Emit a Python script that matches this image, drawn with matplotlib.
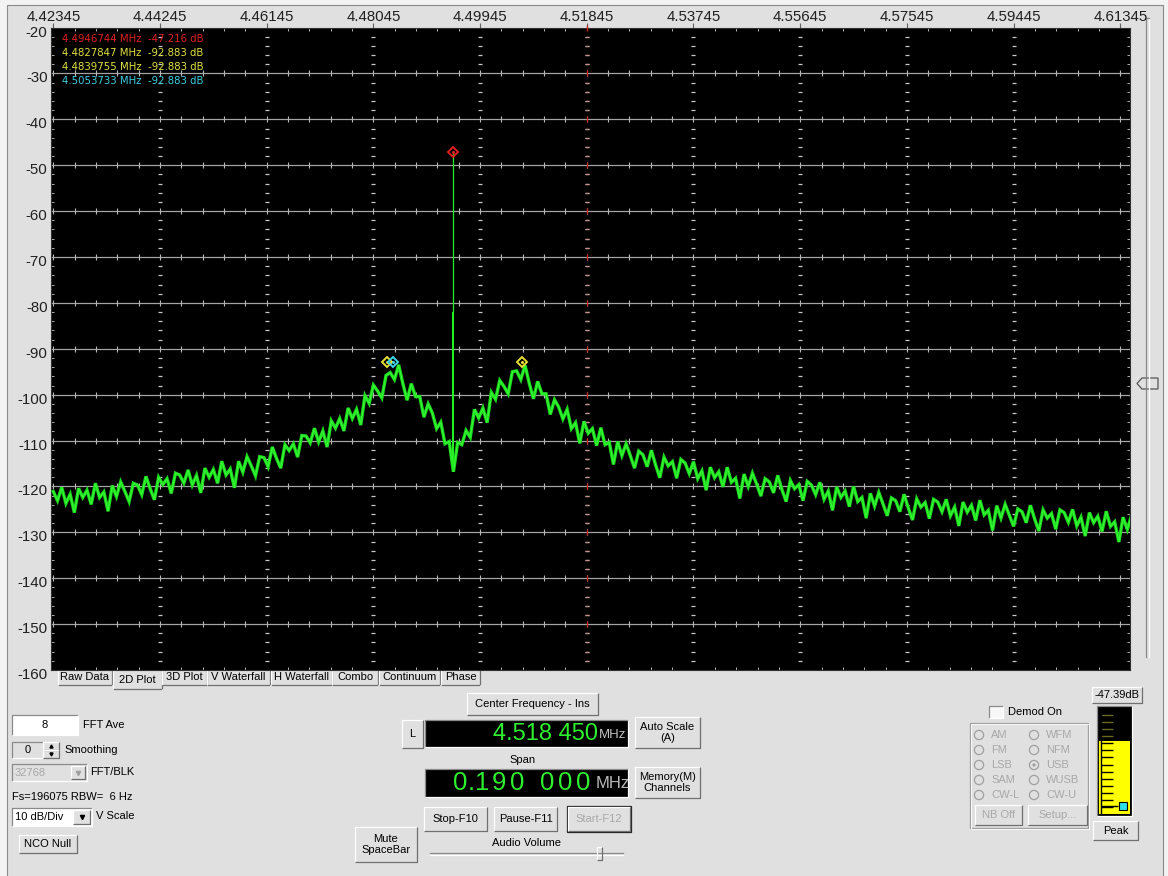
import numpy as np
import matplotlib
matplotlib.use("Agg")
import matplotlib.pyplot as plt
from matplotlib.patches import Rectangle, Polygon, Circle

plt.rcParams['font.family'] = ['Liberation Sans', 'DejaVu Sans']

# ---------------- data ----------------
freq_start = 4.42345          # MHz, first FFT bin shown
freq_step = 0.00075           # MHz per plotted bin
spectrum_db = [
    -121.1, -123.1, -120.2, -123.7, -121.7, -125.7, -120.4, -122.4, -120.8, -123.9,
    -119.3, -122.4, -121.2, -125.4, -119.8, -122.2, -119.0, -121.1, -123.3, -119.3,
    -119.7, -121.8, -117.8, -120.5, -122.9, -118.0, -119.6, -118.3, -121.5, -117.1,
    -117.5, -119.3, -116.4, -119.7, -117.6, -121.4, -116.0, -118.0, -116.3, -119.3,
    -114.5, -117.5, -116.2, -120.3, -114.5, -116.9, -113.5, -115.5, -117.7, -113.5,
    -113.7, -115.7, -111.4, -113.9, -116.0, -110.9, -112.2, -110.7, -113.6, -108.9,
    -109.0, -110.5, -107.3, -110.3, -107.9, -111.4, -105.7, -107.3, -105.2, -107.9,
    -102.9, -105.2, -103.2, -106.6, -100.2, -101.9, -97.9, -99.2, -100.7, -95.8,
    -95.2, -96.7, -93.5, -97.6, -101.2, -97.6, -100.4, -100.4, -104.9, -102.0,
    -104.0, -107.4, -106.0, -110.7, -110.2, -116.8, -110.4, -110.9, -107.8, -109.3,
    -103.2, -105.1, -102.9, -106.1, -99.5, -101.0, -96.9, -98.2, -99.8, -95.0,
    -94.8, -96.7, -93.6, -97.5, -100.9, -97.1, -99.8, -99.8, -104.3, -101.1,
    -102.7, -105.3, -103.2, -107.4, -106.1, -110.6, -105.8, -108.4, -107.4, -111.1,
    -107.2, -110.9, -110.4, -115.2, -110.2, -113.3, -110.7, -113.3, -116.0, -112.3,
    -113.1, -115.7, -112.1, -115.3, -118.1, -113.6, -115.5, -114.6, -118.2, -114.1,
    -114.9, -117.2, -114.6, -118.3, -116.6, -120.8, -115.8, -118.1, -116.8, -120.1,
    -115.8, -119.1, -118.2, -122.6, -117.3, -120.0, -117.1, -119.5, -122.1, -118.3,
    -119.0, -121.4, -117.6, -120.7, -123.3, -118.7, -120.5, -119.6, -123.1, -118.9,
    -119.7, -121.8, -119.1, -122.8, -121.0, -125.2, -120.1, -122.4, -121.0, -124.4,
    -120.0, -123.3, -122.4, -126.9, -121.5, -124.3, -121.3, -123.8, -126.4, -122.5,
    -123.1, -125.5, -121.7, -124.7, -127.3, -122.7, -124.5, -123.5, -127.0, -122.8,
    -123.4, -125.5, -122.8, -126.4, -124.5, -128.6, -123.4, -125.6, -124.1, -127.4,
    -123.0, -126.2, -125.2, -129.6, -124.2, -126.9, -123.9, -126.3, -128.7, -124.9,
    -125.5, -127.9, -124.1, -127.1, -129.7, -125.1, -126.9, -125.9, -129.3, -125.1,
    -125.7, -127.8, -125.0, -128.6, -126.7, -130.8, -125.7, -127.9, -126.5, -129.8,
    -125.4, -128.7, -127.7, -132.1, -126.7, -129.4, -126.3,
]
carrier_freq = 4.4946744
carrier_db = -47.216
carrier_shoulder_db = -82.0
carrier_floor_db = -116.8

marker_freqs = [4.4946744, 4.4827847, 4.4839755, 4.5069]
marker_dbs = [-47.216, -92.883, -92.883, -92.883]
readout_freqs = [4.4946744, 4.4827847, 4.4839755, 4.5053733]
readout_dbs = [-47.216, -92.883, -92.883, -92.883]

x_tick_labels = ['4.42345', '4.44245', '4.46145', '4.48045', '4.49945', '4.51845',
                 '4.53745', '4.55645', '4.57545', '4.59445', '4.61345']
y_ticks = [-20, -30, -40, -50, -60, -70, -80, -90, -100, -110, -120, -130, -140, -150, -160]
center_freq = 4.51845
x_limits = (4.42304, 4.61518)
y_limits = (-160, -20)

meter_range = (-150, 0)
meter_db = -47.39
meter_peak_db = -138
meter_ticks = [-10, -20, -30, -40, -50, -60, -70, -80, -90, -100, -110, -120, -130, -140]

tab_names = ['Raw Data', '2D Plot', '3D Plot', 'V Waterfall', 'H Waterfall', 'Combo', 'Continuum', 'Phase']
demod_modes = [('AM', 'WFM'), ('FM', 'NFM'), ('LSB', 'USB'), ('SAM', 'WUSB'), ('CW-L', 'CW-U')]

# ---------------- figure / UI canvas ----------------
W, H = 1168, 876
BG = '#e0e0e0'
fig = plt.figure(figsize=(W / 100, H / 100), dpi=100, facecolor='#f3f3f3')
ui = fig.add_axes([0, 0, 1, 1])
ui.set_xlim(0, W)
ui.set_ylim(H, 0)
ui.axis('off')


def fr(x0, y0, x1, y1):
    return [x0 / W, 1 - y1 / H, (x1 - x0) / W, (y1 - y0) / H]


ui.add_patch(Rectangle((7, 5), 1156, 880, facecolor=BG, edgecolor='#8a8a8a', lw=0.8))


def bevel(x0, y0, x1, y1, sunken=False, face=BG, frame=False):
    ui.add_patch(Rectangle((x0, y0), x1 - x0, y1 - y0, facecolor=face, edgecolor='none'))
    if sunken:
        tl, br = '#8a8a8a', '#ffffff'
    else:
        tl, br = '#ffffff', '#707070'
    ui.plot([x0, x0, x1], [y1, y0, y0], color=tl, lw=0.9, solid_capstyle='butt')
    ui.plot([x0, x1, x1], [y1, y1, y0], color=br, lw=0.9, solid_capstyle='butt')
    if frame:
        ui.add_patch(Rectangle((x0 - 1, y0 - 1), x1 - x0 + 2, y1 - y0 + 2, facecolor='none',
                               edgecolor='#202020', lw=0.9))


def txt(x, y, s, ha='left', size=8, color='#000000', **kw):
    ui.text(x, y, s, ha=ha, va='center', fontsize=size, color=color, **kw)


def button(x0, y0, x1, y1, s, color='#000000', frame=False, size=8):
    bevel(x0, y0, x1, y1, frame=frame)
    txt((x0 + x1) / 2, (y0 + y1) / 2, s, ha='center', color=color, size=size, linespacing=1.05)


# ---------------- spectrum plot ----------------
ax = fig.add_axes(fr(51, 27.6, 1130, 670), zorder=3)
ax.set_facecolor('black')
ax.set_xlim(*x_limits)
ax.set_ylim(*y_limits)
for sp in ax.spines.values():
    sp.set_color('#303030')
    sp.set_linewidth(0.8)

x_major = [float(s) for s in x_tick_labels]
x_minor = np.linspace(x_major[0], x_major[-1], 5 * (len(x_major) - 1) + 1)
ax.set_xticks(x_major)
ax.set_xticklabels(x_tick_labels)
ax.set_xticks(x_minor, minor=True)
ax.tick_params(axis='x', which='major', top=True, bottom=False, labeltop=True, labelbottom=False,
               direction='out', length=3.8, width=0.8, color='#606060', pad=-1.5,
               labelsize=10.8, labelcolor='#202020')
ax.tick_params(axis='x', which='minor', top=True, bottom=True, direction='in', length=2.5,
               width=0.7, color='#b0b0b0')
ax.set_yticks([])
ax.set_yticks(np.arange(-158, -20, 2), minor=True)
ax.tick_params(axis='y', which='minor', left=True, right=True, direction='in', length=2.5,
               width=0.7, color='#b0b0b0')
for v in y_ticks:
    ax.annotate(f'{v}', xy=(0, v), xycoords=('axes fraction', 'data'), xytext=(-2.5, -3.6),
                textcoords='offset points', ha='right', va='center', fontsize=10.8,
                color='#202020', annotation_clip=False)

# horizontal grid with small crossing ticks
grid_levels = y_ticks[1:-1]
ax.hlines(grid_levels, x_limits[0], x_limits[1], color='#a4a4a4', lw=0.9, zorder=1)
gx, gy = np.meshgrid(x_minor, grid_levels)
ax.plot(gx.ravel(), gy.ravel(), ls='none', marker='|', ms=4.2, mew=0.8, color='#b8b8b8', zorder=1)
# dashed vertical grid lines made of short dashes every 2 dB
dash_levels = [v for v in np.arange(-158, -20, 2) if v % 10 != 0]
for xm in x_major[1:-1]:
    ax.plot([xm] * len(dash_levels), dash_levels, ls='none', marker='_', ms=3.2, mew=0.9,
            color='#c8c8c8', zorder=1)
# centre frequency marks in red
ax.plot([center_freq] * len(grid_levels), grid_levels, ls='none', marker='|', ms=4.2, mew=0.9,
        color='#d02020', zorder=1.5)
ax.plot([center_freq] * len(dash_levels), dash_levels, ls='none', marker='_', ms=3.2, mew=0.9,
        color='#c89090', zorder=1.2)
ax.plot([center_freq], [y_limits[1]], ls='none', marker='|', ms=5, mew=1.0, color='#d02020',
        clip_on=False, zorder=5)

# trace: a body plus the thin noisy line on top
freqs = freq_start + freq_step * np.arange(len(spectrum_db))
ax.plot(freqs, spectrum_db, color='#1ed61e', lw=2.4, zorder=2.8, solid_joinstyle='miter')
ax.plot(freqs, spectrum_db, color='#30f530', lw=1.0, zorder=3, solid_joinstyle='miter')
ax.vlines(carrier_freq, carrier_floor_db, carrier_shoulder_db, color='#22ee22', lw=1.5, zorder=3)
ax.vlines(carrier_freq, carrier_shoulder_db, carrier_db, color='#22ee22', lw=0.9, zorder=3)

# markers
marker_colors = ['#e02020', '#e8e030', '#40d8e8', '#e8e030']
for f, d, c in zip(marker_freqs, marker_dbs, marker_colors):
    ax.plot(f, d, marker='D', ms=5.4, mfc='none', mec=c, mew=1.4, zorder=4)
    ax.plot(f, d, marker='o', ms=1.2, color=c, zorder=4)

# marker readouts
readout_colors = ['#e02020', '#e0e040', '#e0e040', '#40d0e0']
for k, (f, d, c) in enumerate(zip(readout_freqs, readout_dbs, readout_colors)):
    ax.text(62, 39 + 14 * k, f'{f:.7f} MHz  {d:.3f} dB', transform=ui.transData,
            ha='left', va='center', fontsize=7.3, color=c, family='DejaVu Sans', zorder=6)

# ---------------- right vertical slider ----------------
ui.plot([1146, 1146], [18, 657], color='#8a8a8a', lw=0.9)
ui.plot([1149, 1149], [18, 657], color='#ffffff', lw=0.9)
ui.plot([1146, 1149], [18, 18], color='#8a8a8a', lw=0.9)
ui.add_patch(Polygon([(1137, 383.5), (1142, 378), (1158, 378), (1158, 389), (1142, 389)],
                     closed=True, facecolor=BG, edgecolor='#555555', lw=0.9))

# ---------------- tabs ----------------
tab_edges = [(58, 112), (113, 162), (162, 207), (207, 270), (271, 332), (332, 378), (379, 440), (441, 480)]
for name, (x0, x1) in zip(tab_names, tab_edges):
    sel = name == '2D Plot'
    y1 = 689 if sel else 685
    ui.add_patch(Rectangle((x0, 670), x1 - x0, y1 - 670, facecolor=BG, edgecolor='none'))
    ui.plot([x0, x0], [670, y1 - 1], color='#ffffff', lw=0.9)
    ui.plot([x0 + 1, x1 - 1], [y1, y1], color='#707070', lw=0.9)
    ui.plot([x1, x1], [670, y1 - 1], color='#707070', lw=0.9)
    txt((x0 + x1) / 2, 680 if sel else 677.5, name, ha='center', size=8)

# ---------------- left panel ----------------
bevel(12, 715, 78, 735, sunken=True, face='#ffffff')
txt(45, 725, '8', ha='center')
txt(83, 725, 'FFT Ave')
bevel(12, 742, 43, 758, sunken=True, face=BG)
txt(28, 750, '0', ha='center')
bevel(43, 742, 59, 750)
bevel(43, 750, 59, 758)
ui.plot(51, 746, marker='^', ms=2.2, color='#000000')
ui.plot(51, 754, marker='v', ms=2.2, color='#000000')
txt(64, 750, 'Smoothing')
bevel(12, 764, 87, 781, sunken=True, face=BG)
txt(15, 772.5, '32768', color='#a8a8a8')
bevel(71, 766, 85, 779)
ui.plot(78, 772.5, marker='v', ms=3, color='#a0a0a0')
txt(90, 772, 'FFT/BLK')
txt(12, 797, 'Fs=196075 RBW=  6 Hz')
bevel(12, 808, 92, 826, sunken=True, face='#ffffff')
txt(15, 817, '10 dB/Div')
bevel(73, 810, 90, 824)
ui.plot(81.5, 817, marker='v', ms=3, color='#000000')
txt(96, 816, 'V Scale')
button(19, 835, 77, 853, 'NCO Null')
button(355, 827, 417, 862, 'Mute\nSpaceBar')

# ---------------- centre panel ----------------
button(467, 693, 598, 715, 'Center Frequency - Ins')
button(402, 720, 423, 748, 'L')
bevel(425, 720, 628, 747, sunken=True, face='#000000')
cf_str = f'{center_freq:.6f}'
txt(598, 734, cf_str[:5] + ' ' + cf_str[5:], ha='right', size=17, color='#2ef02e')
txt(599, 735, 'MHz', size=9.5, color='#c0c0c0')
button(635, 717, 700, 748, 'Auto Scale\n(A)')
txt(523, 760, 'Span', ha='center')
bevel(425, 769, 628, 797, sunken=True, face='#000000')
span_text = '0.190 000'
span_x = [460, 471, 482, 499, 517, 535, 547, 565, 583]
for ch, xc in zip(span_text, span_x):
    if ch != ' ':
        txt(xc, 783, ch, ha='center', size=18.5, color='#2ef02e')
txt(596, 784, 'MHz', size=12, color='#b8b8b8')
button(635, 767, 700, 798, 'Memory(M)\nChannels')
button(424, 807, 487, 831, 'Stop-F10')
button(494, 807, 557, 831, 'Pause-F11')
button(568, 807, 630, 831, 'Start-F12', color='#a8a8a8', frame=True)
txt(527, 843, 'Audio Volume', ha='center')
ui.plot([430, 623], [853, 853], color='#8a8a8a', lw=0.9)
ui.plot([430, 623], [855, 855], color='#ffffff', lw=0.9)
bevel(597, 847, 602, 860)

# ---------------- right panel ----------------
button(1092, 687, 1142, 703, f'{meter_db:.2f}dB')
bevel(989, 706, 1003, 718, sunken=True, face='#f8f8f8')
txt(1008, 712, 'Demod On')
ui.add_patch(Rectangle((970, 723), 118, 105, facecolor='none', edgecolor='#a0a0a0', lw=0.9))
ui.add_patch(Rectangle((971, 724), 118, 105, facecolor='none', edgecolor='#ffffff', lw=0.6))
rows_y = [735, 750, 765, 780, 795]
for (a, b), yy in zip(demod_modes, rows_y):
    for lab, cx in ((a, 979), (b, 1034)):
        ui.add_patch(Circle((cx, yy), 4.6, facecolor=BG, edgecolor='#a0a0a0', lw=0.9))
        if lab == 'USB':
            ui.add_patch(Circle((cx, yy), 1.6, facecolor='#a0a0a0', edgecolor='none'))
        txt(cx + 12, yy, lab, color='#a8a8a8')
button(975, 805, 1022, 825, 'NB Off', color='#a8a8a8')
button(1028, 805, 1087, 825, 'Setup...', color='#a8a8a8')
bevel(1097, 706, 1132, 816, sunken=True, face='#000000')
button(1093, 821, 1138, 840, 'Peak')

mx = fig.add_axes(fr(1099, 708, 1130, 814), zorder=3)
mx.set_facecolor('black')
mx.set_xlim(0, 1)
mx.set_ylim(*meter_range)
mx.set_xticks([])
mx.set_yticks([])
for sp in mx.spines.values():
    sp.set_visible(False)
mx.bar(0.5, meter_db - meter_range[0], bottom=meter_range[0], width=1.0, color='#ffff00')
for v in meter_ticks:
    mx.hlines(v, 0.07, 0.46, color='#6a6a20' if v > meter_db else '#000000', lw=1.0)
mx.vlines(0.07, meter_range[0], meter_range[1], color='#000000', lw=1.0)
mx.hlines(meter_peak_db, 0.07, 0.62, color='#000000', lw=1.0)
mx.plot(0.78, meter_peak_db, marker='s', ms=6, mfc='#30e0e8', mec='#000000', mew=0.8)

fig.savefig('out.png', dpi=100, facecolor=fig.get_facecolor())
